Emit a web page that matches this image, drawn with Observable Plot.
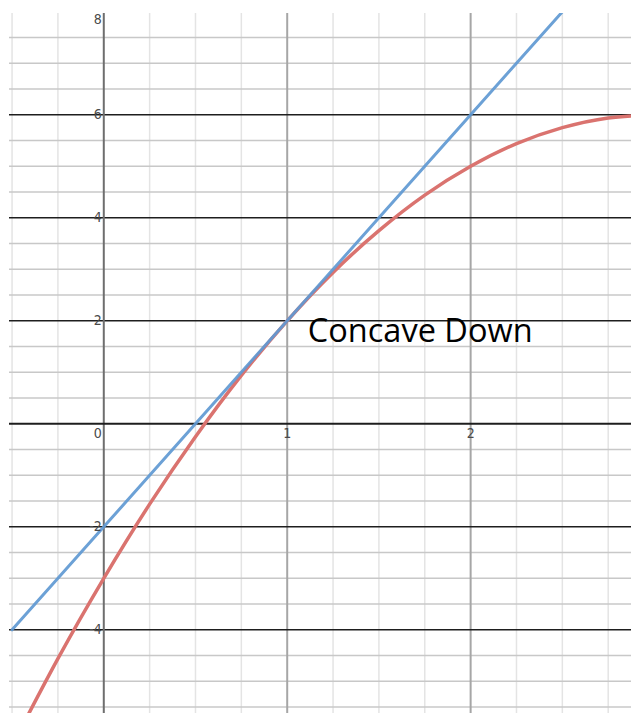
<!DOCTYPE html>
<html>
<head>
<meta charset="utf-8">
<script src="https://cdn.jsdelivr.net/npm/d3@7"></script>
<script src="https://cdn.jsdelivr.net/npm/@observablehq/plot@0.6"></script>
<style>
  html, body { margin: 0; padding: 0; background: #fff; }
  #chart svg { display: block; }
</style>
</head>
<body>
<div id="chart"></div>
<script>
// ---- data ----
// curve f (concave down), sampled points
const curveX = [-0.5, -0.25, 0, 0.25, 0.5, 0.75, 1, 1.25, 1.5, 1.75, 2, 2.25, 2.5, 2.75, 3];
const curveY = [-6.25, -4.56, -3, -1.56, -0.25, 0.94, 2, 2.94, 3.75, 4.44, 5, 5.44, 5.75, 5.94, 6];
// tangent line at x = 1
const tangentX = [-0.5, 0, 0.5, 1, 1.5, 2, 2.5];
const tangentY = [-4, -2, 0, 2, 4, 6, 8];
// grid / ticks
const xMinor = [-0.5, -0.25, 0.25, 0.5, 0.75, 1.25, 1.5, 1.75, 2.25, 2.5, 2.75];
const xMajor = [1, 2];
const yMinor = [-5.5, -5, -4.5, -3.5, -3, -2.5, -1.5, -1, -0.5, 0.5, 1, 1.5, 2.5, 3, 3.5, 4.5, 5, 5.5, 6.5, 7, 7.5];
const yMajor = [-4, -2, 2, 4, 6];
const xTickLabels = ["1", "2"];
const xTickValues = [1, 2];
const yTickLabels = ["-4", "-2", "2", "4", "6"];
const yTickValues = [-4, -2, 2, 4, 6];
const topTickLabel = ["8"];
const originLabel = ["0"];
const annotationText = ["Concave Down"];
const annotationX = [1.725];
const annotationY = [1.8];

const curve = curveX.map((x, i) => ({x, y: curveY[i]}));
const tangent = tangentX.map((x, i) => ({x, y: tangentY[i]}));
const annotation = annotationText.map((t, i) => ({t, x: annotationX[i], y: annotationY[i]}));
const yTicks = yTickValues.map((v, i) => ({v, t: yTickLabels[i]}));
const xTicks = xTickValues.map((v, i) => ({v, t: xTickLabels[i]}));

const tickFont = "'Liberation Sans Narrow', 'DejaVu Sans Condensed', sans-serif";

const chart = Plot.plot({
  width: 631,
  height: 713,
  marginTop: 13,
  marginLeft: 9,
  marginRight: 0,
  marginBottom: 0,
  x: {domain: [-0.514, 2.877], axis: null},
  y: {domain: [-5.625, 7.967], axis: null},
  style: {background: "#fff"},
  marks: [
    Plot.ruleX(xMinor, {stroke: "#e4e4e4", strokeWidth: 1.5}),
    Plot.ruleY(yMinor, {stroke: "#c8c8c8", strokeWidth: 1.5}),
    Plot.ruleX(xMajor, {stroke: "#a6a6a6", strokeWidth: 2}),
    Plot.ruleY(yMajor, {stroke: "#1e1e1e", strokeWidth: 1.5}),
    Plot.ruleX([0], {stroke: "#6e6e6e", strokeWidth: 2}),
    Plot.ruleY([0], {stroke: "#1e1e1e", strokeWidth: 2}),
    Plot.line(curve, {x: "x", y: "y", curve: "natural", stroke: "#da736f", strokeWidth: 3.5, clip: true}),
    Plot.line(tangent, {x: "x", y: "y", stroke: "#5f99d2", strokeWidth: 3, strokeOpacity: 0.92, clip: true}),
    // tick labels
    Plot.text(yTicks, {x: 0, y: "v", text: "t", textAnchor: "end", dx: -2,
      fontFamily: tickFont, fontSize: 14, fill: "#4a4a4a"}),
    Plot.text(topTickLabel, {x: 0, frameAnchor: "top", text: d => d, textAnchor: "end", lineAnchor: "top", dx: -2, dy: 1,
      fontFamily: tickFont, fontSize: 14, fill: "#4a4a4a"}),
    Plot.text(xTicks, {x: "v", y: 0, text: "t", lineAnchor: "top", dy: 4,
      fontFamily: tickFont, fontSize: 14, fill: "#4a4a4a"}),
    Plot.text(originLabel, {x: 0, y: 0, text: d => d, textAnchor: "end", lineAnchor: "top", dx: -2, dy: 4,
      fontFamily: tickFont, fontSize: 14, fill: "#4a4a4a"}),
    // annotation
    Plot.text(annotation, {x: "x", y: "y", text: "t", fontFamily: "'Open Sans', sans-serif", fontSize: 32.5, fill: "#000"})
  ]
});
document.getElementById("chart").appendChild(chart);
</script>
</body>
</html>
